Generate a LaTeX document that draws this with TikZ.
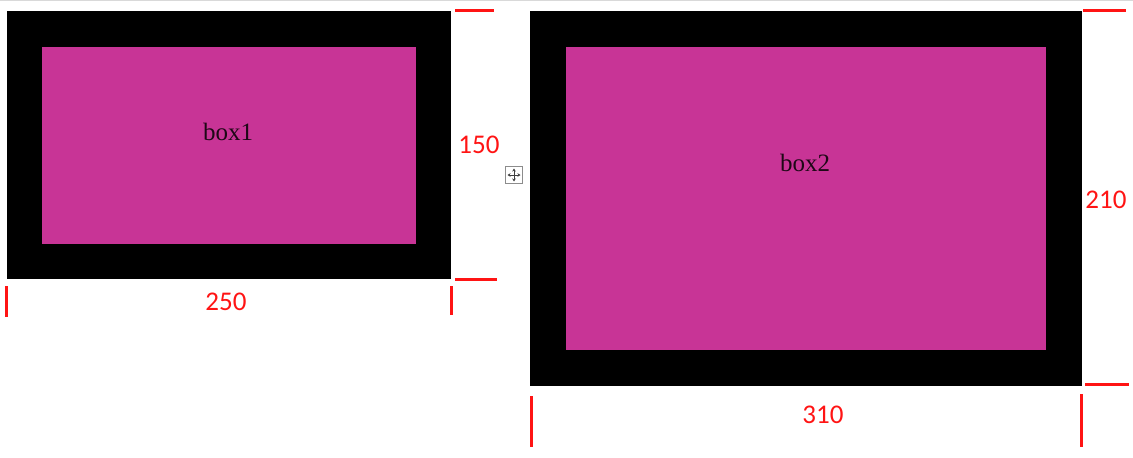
\documentclass[tikz,border=0pt]{standalone}
\usepackage{fontspec}
\setmainfont{Liberation Serif}
\newfontfamily\dimfont{Carlito}
\usetikzlibrary{arrows.meta, positioning}
\definecolor{boxmagenta}{RGB}{200,52,150}
\definecolor{dimred}{RGB}{255,20,20}

\begin{document}
\begin{tikzpicture}[x=1pt, y=-1pt,
    frame/.style={fill=black, draw=none, inner sep=0pt},
    panel/.style={fill=boxmagenta, draw=none, inner sep=0pt},
    tick/.style={dimred, line width=3pt},
    dimlabel/.style={text=dimred, font=\dimfont\fontsize{27}{31}\selectfont},
    boxlabel/.style={text=black!85!boxmagenta, font=\fontsize{25}{29}\selectfont}]
  \useasboundingbox (0,0) rectangle (1133,458);
  \draw[black!15, line width=1pt] (0,0.5) -- (1133,0.5);
  % box1
  \node[frame, minimum width=444pt, minimum height=268pt] (outer1) at (229,145) {};
  \node[panel, minimum width=374pt, minimum height=197pt] (inner1) at (229,145.5) {};
  \node[boxlabel] (lab1) at (228,132) {box1};
  \draw[tick] (455,10.5) -- (494,10.5);
  \draw[tick] (455,279) -- (497,279);
  \draw[tick] (6,286) -- (6,317);
  \draw[tick] (451,286) -- (451,315);
  \node[dimlabel] (h1) at (479,145) {150};
  \node[dimlabel] (w1) at (226,302) {250};
  % move handle
  \node[draw=black!45, fill=white, line width=0.6pt, minimum size=17pt, inner sep=0pt] (handle) at (514,175) {};
  \draw[black!75, line width=0.7pt, {Stealth[length=3pt,width=3.5pt]}-{Stealth[length=3pt,width=3.5pt]}] (507.5,175) -- (520.5,175);
  \draw[black!75, line width=0.7pt, {Stealth[length=3pt,width=3.5pt]}-{Stealth[length=3pt,width=3.5pt]}] (514,168.5) -- (514,181.5);
  % box2
  \node[frame, minimum width=552pt, minimum height=375pt] (outer2) at (806,198.5) {};
  \node[panel, minimum width=480pt, minimum height=303pt] (inner2) at (806,198.5) {};
  \node[boxlabel] (lab2) at (805,163) {box2};
  \draw[tick] (1083,10) -- (1126,10);
  \draw[tick] (1085,384) -- (1129,384);
  \draw[tick] (531,396) -- (531,447);
  \draw[tick] (1081,394) -- (1081,447);
  \node[dimlabel] (h2) at (1106,200) {210};
  \node[dimlabel] (w2) at (823,415) {310};
\end{tikzpicture}
\end{document}
